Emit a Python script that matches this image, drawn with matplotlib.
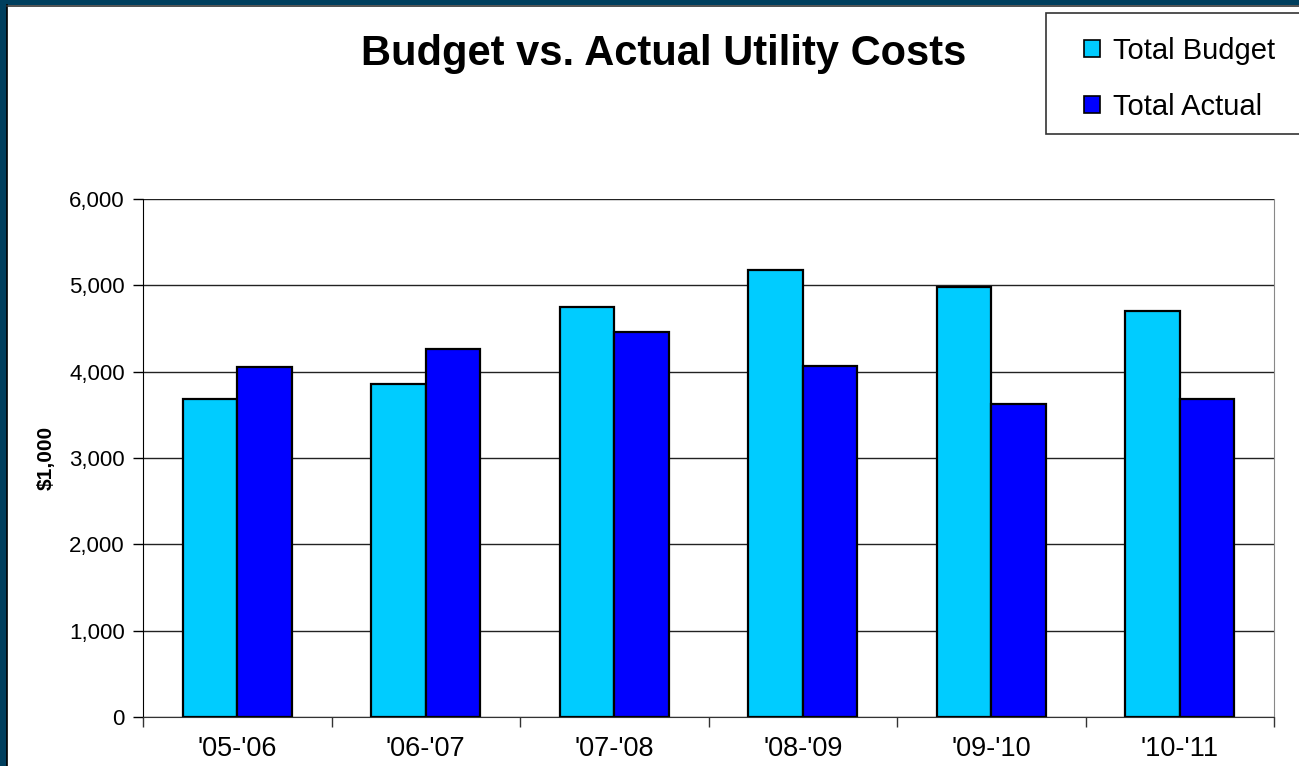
import numpy as np
import matplotlib
matplotlib.use("Agg")
import matplotlib.pyplot as plt
from matplotlib.patches import Rectangle, Patch
from matplotlib.ticker import FuncFormatter, FixedLocator

plt.rcParams['font.family'] = ['Liberation Sans', 'DejaVu Sans']

# data ($1,000)
years = ["'05-'06", "'06-'07", "'07-'08", "'08-'09", "'09-'10", "'10-'11"]
budget = [3680, 3855, 4750, 5175, 4985, 4705]
actual = [4050, 4263, 4463, 4066, 3622, 3680]

W, H = 1299, 766
fig = plt.figure(figsize=(W / 100, H / 100), dpi=100)
fig.patch.set_facecolor('white')

# dark blue frame on left and top
border = '#003f5e'
fig.patches.append(Rectangle((0, 0), 7 / W, 1, transform=fig.transFigure,
                             facecolor=border, edgecolor='none', zorder=0))
fig.patches.append(Rectangle((0, 1 - 5 / H), 1, 5 / H, transform=fig.transFigure,
                             facecolor=border, edgecolor='none', zorder=0))
fig.add_artist(plt.Line2D([7 / W, 7 / W], [0, 1 - 5 / H], transform=fig.transFigure,
                          color='black', lw=1.2))
fig.add_artist(plt.Line2D([7 / W, 1], [1 - 5.5 / H, 1 - 5.5 / H], transform=fig.transFigure,
                          color='#333333', lw=1.2))

ax = fig.add_axes([143 / W, 1 - 717 / H, (1274 - 143) / W, (717 - 199) / H])

x = np.arange(len(years))
w = 0.29
ax.bar(x - w / 2, budget, w, color='#00ccff', edgecolor='black', linewidth=1.6,
       label='Total Budget', zorder=3)
ax.bar(x + w / 2, actual, w, color='#0000ff', edgecolor='black', linewidth=1.6,
       label='Total Actual', zorder=3)

ax.set_xlim(-0.5, len(years) - 0.5)
ax.set_ylim(0, 6000)
ax.set_yticks(np.arange(0, 6001, 1000))
ax.yaxis.set_major_formatter(FuncFormatter(lambda v, p: f'{int(v):,}'))
ax.yaxis.grid(True, color='#222222', linewidth=1.0, zorder=0)
ax.set_axisbelow(True)

ax.set_xticks(x)
ax.set_xticklabels(years, fontsize=19.5)
ax.xaxis.set_minor_locator(FixedLocator(np.arange(-0.5, len(years), 1.0)))
ax.tick_params(axis='x', which='major', length=0, pad=14)
ax.tick_params(axis='x', which='minor', length=7, width=1, color='#333333')
ax.tick_params(axis='y', length=7, width=1, labelsize=16, pad=6)

ax.spines['top'].set_visible(False)
ax.spines['right'].set_color('#888888')
ax.spines['left'].set_color('black')
ax.spines['bottom'].set_color('#333333')

ax.set_ylabel('$1,000', fontsize=15, fontweight='bold', labelpad=10)

fig.text(664 / W, 1 - 54 / H, 'Budget vs. Actual Utility Costs', fontsize=30,
         fontweight='bold', ha='center', va='center')

# legend box running off the right edge
fig.patches.append(Rectangle((1046 / W, 1 - 134 / H), (W - 1046 + 5) / W, (134 - 13) / H,
                             transform=fig.transFigure, facecolor='white',
                             edgecolor='#333333', linewidth=1.2, zorder=1))
handles = [Patch(facecolor='#00ccff', edgecolor='black', linewidth=1.2),
           Patch(facecolor='#0000ff', edgecolor='black', linewidth=1.2)]
fig.legend(handles, ['Total Budget', 'Total Actual'], loc='upper left',
           bbox_to_anchor=(1084 / W, 1 - 37 / H), frameon=False, fontsize=21,
           handlelength=0.55, handleheight=0.55, handletextpad=0.45,
           labelspacing=0.95, borderaxespad=0, borderpad=0)

fig.savefig('out.png', dpi=100)
